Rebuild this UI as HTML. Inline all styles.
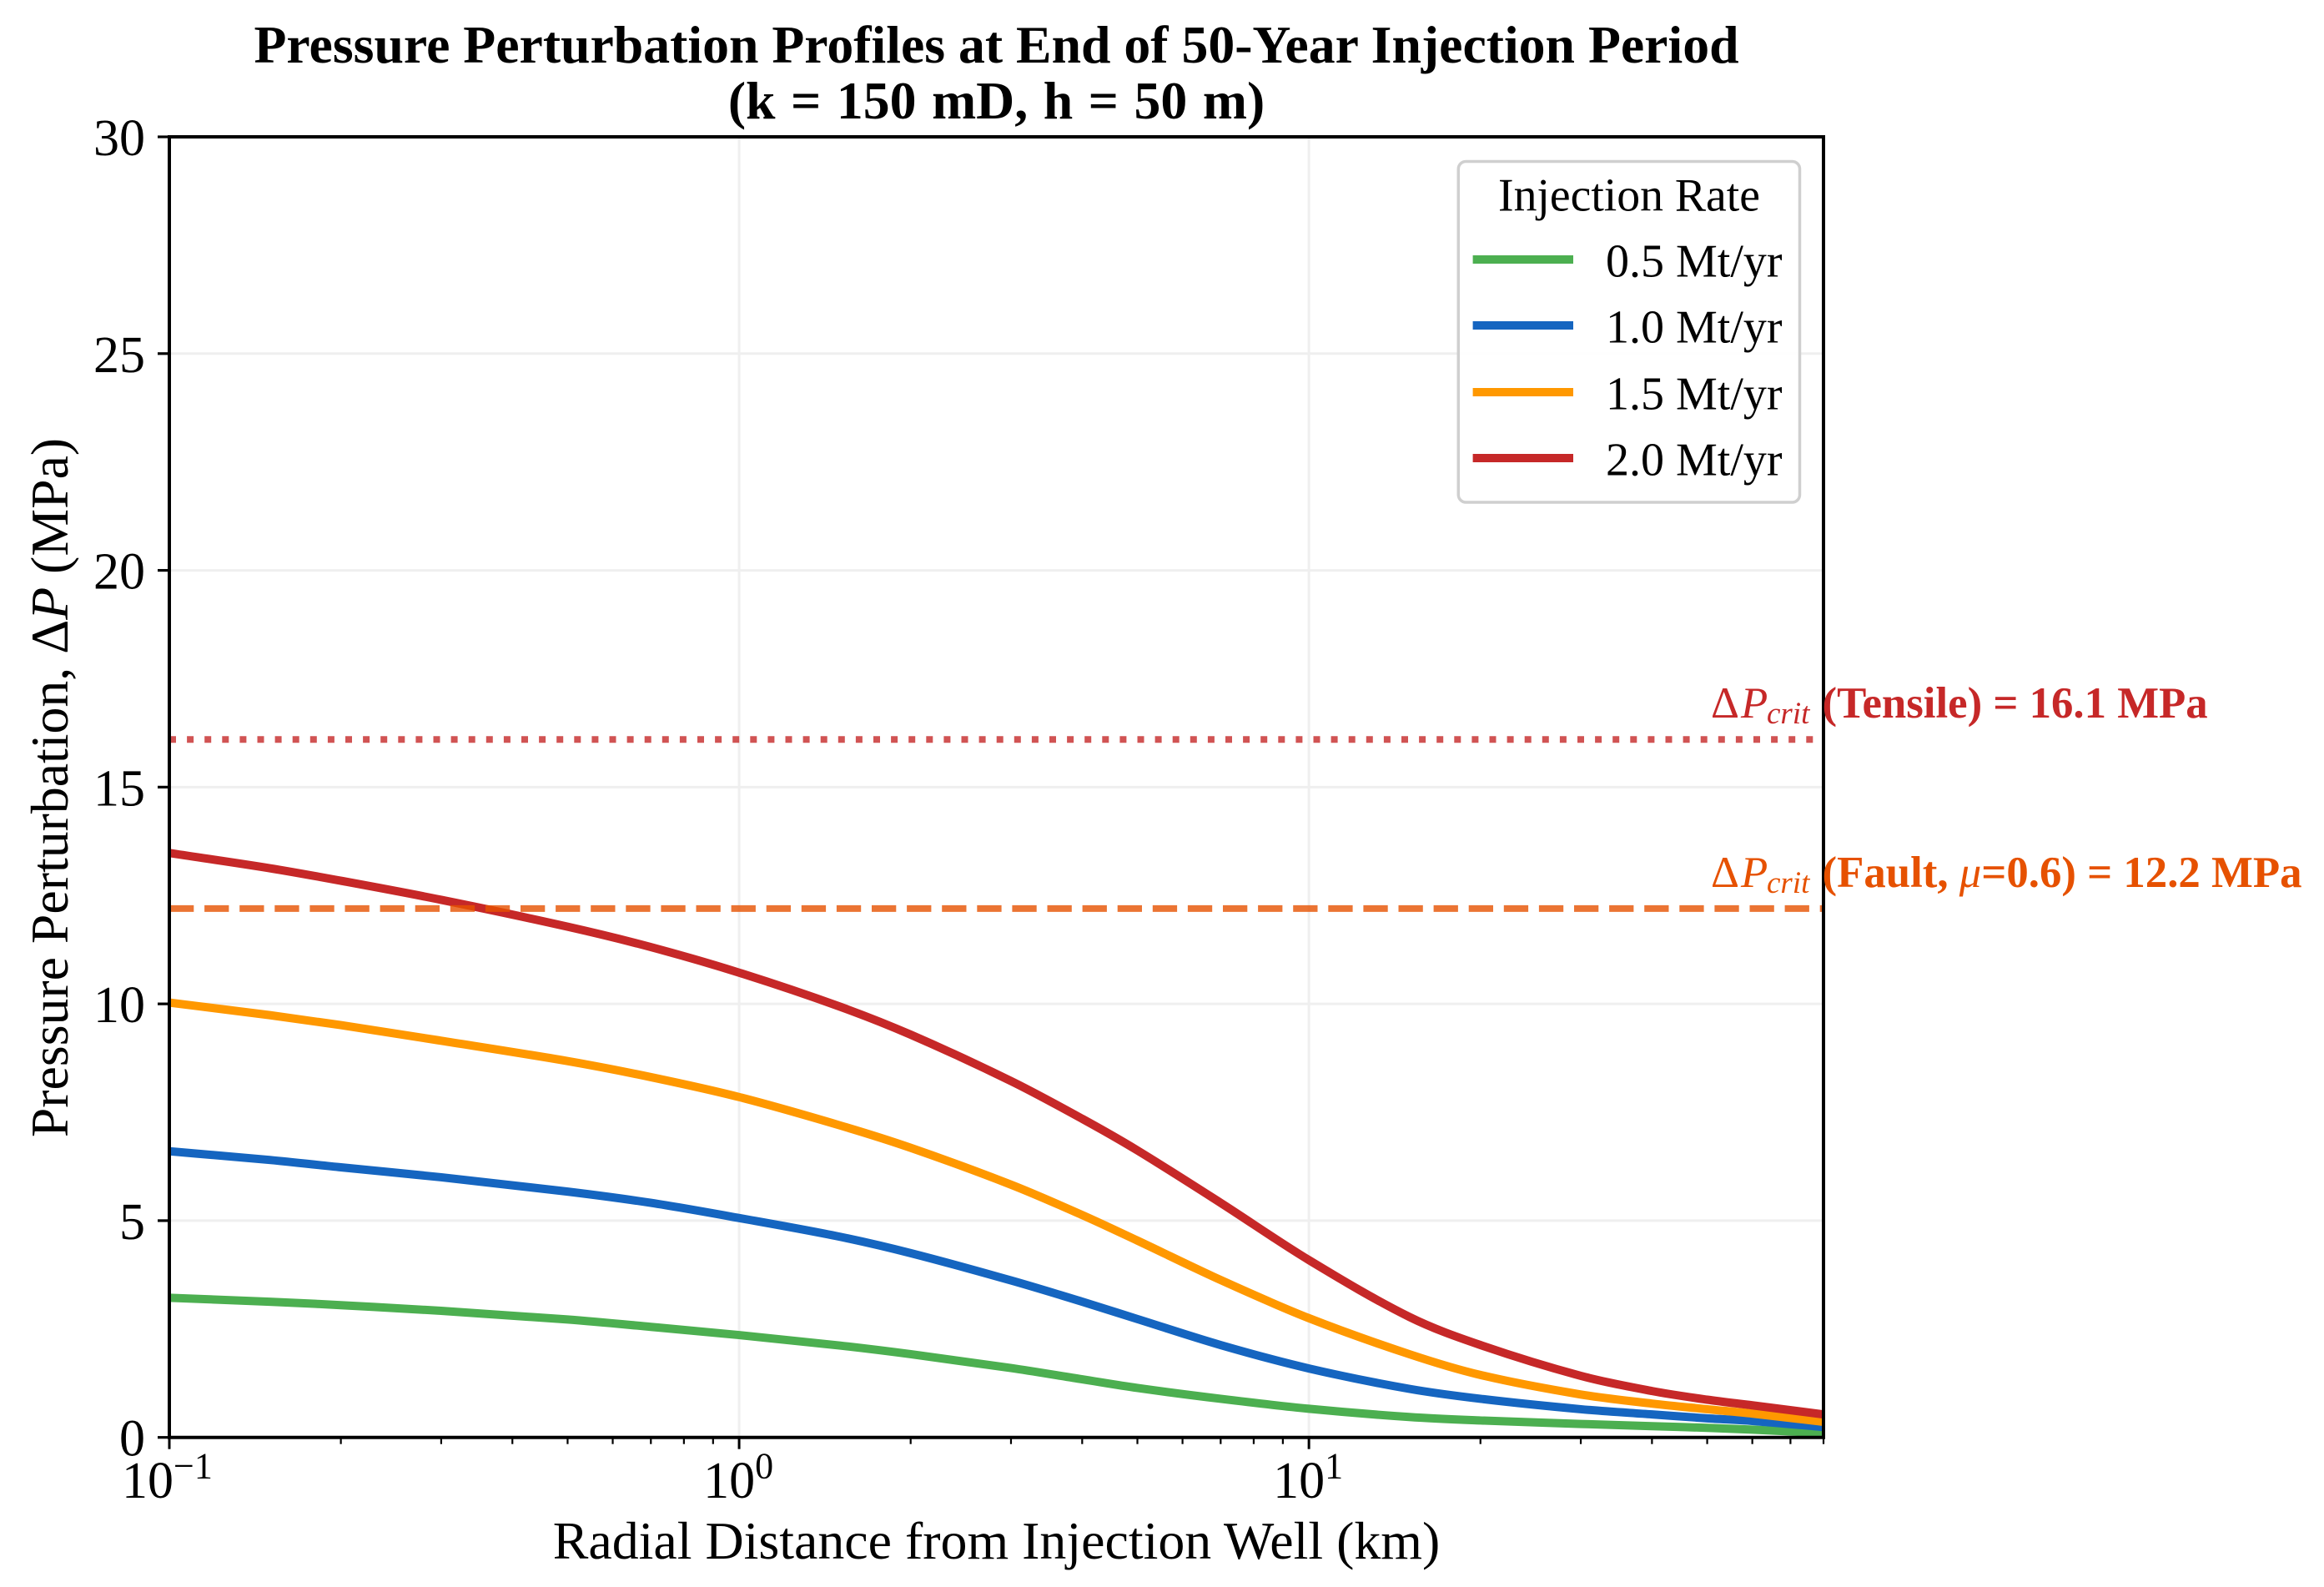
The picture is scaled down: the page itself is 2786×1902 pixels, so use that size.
<!DOCTYPE html>
<html lang="en">
<head>
<meta charset="utf-8">
<title>Pressure Perturbation Profiles</title>
<style>
html,body{margin:0;padding:0;background:#fff;width:2786px;height:1902px;overflow:hidden}
svg{display:block}
text{font-family:"Liberation Serif","Times New Roman",serif;fill:#000}
</style>
</head>
<body>
<svg id="chart" xmlns="http://www.w3.org/2000/svg" width="2786" height="1902" viewBox="0 0 2786 1902">
  <defs>
    <clipPath id="plot-clip"><rect x="203" y="164" width="1983" height="1558.7"></rect></clipPath>
  </defs>
  <rect x="0" y="0" width="2786" height="1902" fill="#ffffff"></rect>
  <g id="grid-layer"></g>
  <g id="series-layer" clip-path="url(#plot-clip)"></g>
  <g id="threshold-layer" clip-path="url(#plot-clip)"></g>
  <g id="axes-layer"></g>
  <g id="annotation-layer"></g>

  <text x="1194.5" y="75" text-anchor="middle" font-size="63.75" font-weight="bold">Pressure Perturbation Profiles at End of 50-Year Injection Period</text>
  <text x="1194.5" y="142" text-anchor="middle" font-size="63.75" font-weight="bold" word-spacing="2.6">(k = 150 mD, h = 50 m)</text>
  <text x="1194.5" y="1868" text-anchor="middle" font-size="63.9">Radial Distance from Injection Well (km)</text>
  <text transform="translate(81,944) rotate(-90)" text-anchor="middle" font-size="63.8">Pressure Perturbation, Δ<tspan font-style="italic">P</tspan> (MPa)</text>

  <g id="legend">
    <rect x="1748.3" y="193.5" width="409.2" height="408.5" rx="9" ry="9" fill="#ffffff" fill-opacity="0.9" stroke="#cfcfcf" stroke-width="3.5"></rect>
    <text x="1953" y="252.5" text-anchor="middle" font-size="55.7">Injection Rate</text>
  </g>
</svg>

<script>
// ---- chart data ----
const distancesKm = [0.1, 0.15, 0.2, 0.3, 0.5, 0.7, 1, 1.5, 2, 3, 4, 5, 7, 10, 15, 20, 30, 40, 50, 60, 80];
const rate05 = [3.22, 3.13, 3.05, 2.92, 2.72, 2.55, 2.36, 2.12, 1.92, 1.60, 1.34, 1.14, 0.89, 0.66, 0.47, 0.39, 0.31, 0.26, 0.22, 0.18, 0.10];
const rate10 = [6.60, 6.40, 6.23, 6.00, 5.67, 5.41, 5.06, 4.63, 4.25, 3.62, 3.13, 2.73, 2.13, 1.59, 1.12, 0.89, 0.65, 0.53, 0.44, 0.38, 0.24];
const rate15 = [10.03, 9.74, 9.51, 9.15, 8.68, 8.31, 7.85, 7.20, 6.68, 5.83, 5.13, 4.54, 3.63, 2.75, 1.92, 1.44, 0.99, 0.78, 0.65, 0.55, 0.36];
const rate20 = [13.48, 13.13, 12.84, 12.40, 11.78, 11.31, 10.72, 9.94, 9.29, 8.22, 7.35, 6.62, 5.41, 4.09, 2.78, 2.13, 1.42, 1.07, 0.87, 0.74, 0.53];
const seriesLabels = ['0.5 Mt/yr', '1.0 Mt/yr', '1.5 Mt/yr', '2.0 Mt/yr'];
const tensileLimit = 16.1;
const faultLimit = 12.2;
const yTickValues = [0, 5, 10, 15, 20, 25, 30];
const xDecadeExponents = [-1, 0, 1];
const xMinorValues = [0.2, 0.3, 0.4, 0.5, 0.6, 0.7, 0.8, 0.9, 2, 3, 4, 5, 6, 7, 8, 9, 20, 30, 40, 50, 60, 70, 80];

// ---- axis functions ----
const plotLeft = 203, plotRight = 2186, plotTop = 164, plotBottom = 1722.7;
const xMin = 0.1, xMax = 80, yMin = 0, yMax = 30;
function xScale(v) {
  return plotLeft + (Math.log10(v) - Math.log10(xMin)) / (Math.log10(xMax) - Math.log10(xMin)) * (plotRight - plotLeft);
}
function yScale(v) {
  return plotBottom - (v - yMin) / (yMax - yMin) * (plotBottom - plotTop);
}

const NS = 'http://www.w3.org/2000/svg';
function make(tag, parent, props) {
  const el = document.createElementNS(NS, tag);
  for (const k in props) el.setAttribute(k, props[k]);
  parent.appendChild(el);
  return el;
}
function smoothPath(xs, ys) {
  const pts = xs.map((x, i) => [xScale(x), yScale(ys[i])]);
  let d = 'M' + pts[0][0].toFixed(2) + ' ' + pts[0][1].toFixed(2);
  for (let i = 0; i < pts.length - 1; i++) {
    const p0 = pts[Math.max(i - 1, 0)], p1 = pts[i], p2 = pts[i + 1], p3 = pts[Math.min(i + 2, pts.length - 1)];
    const t = (p2[0] - p1[0]) / 3;
    const m1 = (p2[1] - p0[1]) / (p2[0] - p0[0] || 1);
    const m2 = (p3[1] - p1[1]) / (p3[0] - p1[0] || 1);
    d += 'C' + (p1[0] + t).toFixed(2) + ' ' + (p1[1] + m1 * t).toFixed(2) + ' ' +
         (p2[0] - t).toFixed(2) + ' ' + (p2[1] - m2 * t).toFixed(2) + ' ' +
         p2[0].toFixed(2) + ' ' + p2[1].toFixed(2);
  }
  return d;
}

const gridLayer = document.getElementById('grid-layer');
const seriesLayer = document.getElementById('series-layer');
const thresholdLayer = document.getElementById('threshold-layer');
const axesLayer = document.getElementById('axes-layer');
const annotationLayer = document.getElementById('annotation-layer');
const legend = document.getElementById('legend');

// ---- grid ----
yTickValues.forEach(function (v) {
  const line = make('line', gridLayer, {x1: plotLeft, x2: plotRight, y1: yScale(v), y2: yScale(v), stroke: '#efefef', 'stroke-width': 3});
  
  
});
xDecadeExponents.forEach(function (e) {
  const x = xScale(Math.pow(10, e));
  const line = make('line', gridLayer, {x1: x, x2: x, y1: plotTop, y2: plotBottom, stroke: '#efefef', 'stroke-width': 3});
  
  
});

// ---- series ----
const seriesValues = [rate05, rate10, rate15, rate20];
const seriesColors = ['#4CAF50', '#1565C0', '#FF9800', '#C62828'];
const seriesNames = ['series-0-5-mt-yr', 'series-1-0-mt-yr', 'series-1-5-mt-yr', 'series-2-0-mt-yr'];
seriesValues.forEach(function (vals, i) {
  const path = make('path', seriesLayer, {d: smoothPath(distancesKm, vals), fill: 'none', stroke: seriesColors[i], 'stroke-width': 10, 'stroke-linejoin': 'round'});
  
  
});

// ---- threshold lines ----
const tensileLine = make('line', thresholdLayer, {x1: plotLeft, x2: plotRight, y1: yScale(tensileLimit), y2: yScale(tensileLimit), stroke: '#C62828', 'stroke-opacity': 0.8, 'stroke-width': 8, 'stroke-dasharray': '8 13.1'});


const faultLine = make('line', thresholdLayer, {x1: plotLeft, x2: plotRight, y1: yScale(faultLimit), y2: yScale(faultLimit), stroke: '#E65100', 'stroke-opacity': 0.8, 'stroke-width': 8, 'stroke-dasharray': '29.3 12.8'});



// ---- spines ----
[[plotLeft, plotTop, plotLeft, plotBottom, 'left-spine'],
 [plotRight, plotTop, plotRight, plotBottom, 'right-spine'],
 [plotLeft - 2, plotTop, plotRight + 2, plotTop, 'top-spine'],
 [plotLeft - 2, plotBottom, plotRight + 2, plotBottom, 'bottom-spine']].forEach(function (s) {
  const line = make('line', axesLayer, {x1: s[0], y1: s[1], x2: s[2], y2: s[3], stroke: '#000', 'stroke-width': 4});
  
  
});

// ---- y ticks ----
yTickValues.forEach(function (v) {
  const y = yScale(v);
  const tick = make('line', axesLayer, {x1: plotLeft - 14, x2: plotLeft, y1: y, y2: y, stroke: '#000', 'stroke-width': 3.2});
  
  
  const label = make('text', axesLayer, {x: 174, y: y + 22, 'text-anchor': 'end', 'font-size': 62});
  
  
  label.textContent = String(v);
});

// ---- x ticks ----
xDecadeExponents.forEach(function (e) {
  const x = xScale(Math.pow(10, e));
  const tick = make('line', axesLayer, {x1: x, x2: x, y1: plotBottom, y2: plotBottom + 14, stroke: '#000', 'stroke-width': 3});
  
  
  const label = make('text', axesLayer, {x: x - (e < 0 ? 57 : 43), y: 1795, 'font-size': 62});
  
  
  label.appendChild(document.createTextNode('10'));
  const sup = make('tspan', label, {'font-size': 44, dy: -23.5});
  sup.textContent = e < 0 ? '\u2212' + Math.abs(e) : String(e);
});
xMinorValues.forEach(function (v) {
  const x = xScale(v);
  const tick = make('line', axesLayer, {x1: x, x2: x, y1: plotBottom, y2: plotBottom + 8, stroke: '#000', 'stroke-width': 2.2});
  
  
});

// ---- annotations ----
function annotate(value, color, name, parts) {
  const baseline = yScale(value) - 26;
  const t = make('text', annotationLayer, {y: baseline, 'font-size': 52.8, style: 'fill:' + color});
  
  
  const a = make('tspan', t, {x: 2051});
  a.textContent = '\u0394';
  const b = make('tspan', t, {x: 2087, 'font-style': 'italic'});
  b.textContent = 'P';
  const c = make('tspan', t, {x: 2118, dy: 7, 'font-size': 37, 'font-style': 'italic'});
  c.textContent = 'crit';
  const d = make('tspan', t, {x: 2184.5, dy: -7, 'font-weight': 'bold'});
  d.textContent = parts[0];
  if (parts.length > 1) {
    const m = make('tspan', t, {'font-style': 'italic'});
    m.textContent = parts[1];
    const e = make('tspan', t, {'font-weight': 'bold'});
    e.textContent = parts[2];
  }
}
annotate(tensileLimit, '#C62828', 'tensile-critical-label', ['(Tensile) = ' + tensileLimit.toFixed(1) + ' MPa']);
annotate(faultLimit, '#E65100', 'fault-critical-label', ['(Fault, ', '\u03bc', '=0.6) = ' + faultLimit.toFixed(1) + ' MPa']);

// ---- legend entries ----
const legendRowY = [311, 390, 470, 549];
seriesLabels.forEach(function (text, i) {
  const swatch = make('line', legend, {x1: 1765.6, x2: 1886, y1: legendRowY[i], y2: legendRowY[i], stroke: seriesColors[i], 'stroke-width': 10});
  
  
  const label = make('text', legend, {x: 1925, y: legendRowY[i] + 20.5, 'font-size': 56});
  
  
  label.textContent = text;
});
</script>
</body>
</html>
